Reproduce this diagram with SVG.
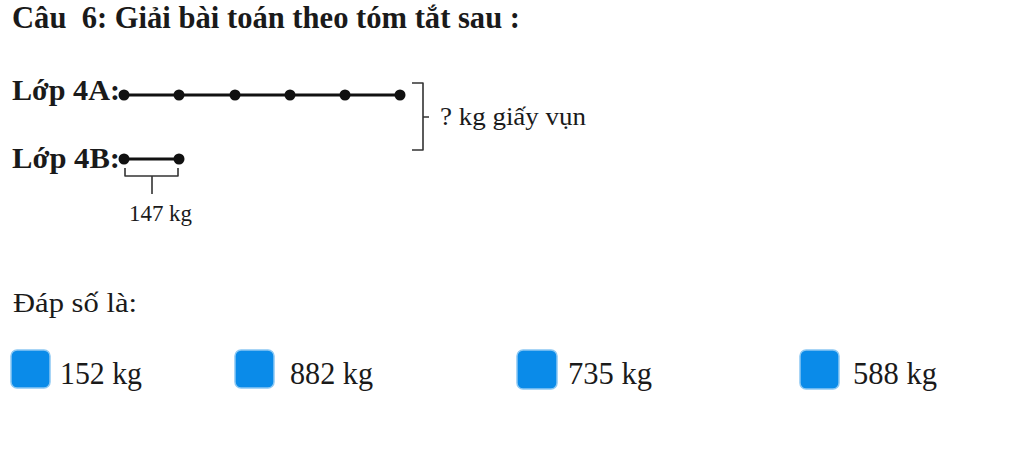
<svg xmlns="http://www.w3.org/2000/svg" width="1024" height="455" viewBox="0 0 1024 455">
  <style>
    .serif { font-family: "Liberation Serif", "Times New Roman", serif; fill: #1a1a1a; }
    .bold { font-weight: bold; }
    .bar { stroke: #111; stroke-width: 3; fill: none; }
    .dot { fill: #111; }
    .thin { stroke: #333; stroke-width: 1.6; fill: none; stroke-linejoin: round; }
    .box { fill: #0a8be9; stroke: #8cc8f3; stroke-width: 1.5; }
  </style>
  <rect width="1024" height="455" fill="#ffffff"/>

  <g id="title">
    <text class="serif bold" x="12" y="28" font-size="31" textLength="508" lengthAdjust="spacingAndGlyphs">Câu&#160; 6: Giải bài toán theo tóm tắt sau :</text>
  </g>

  <g id="lop4a">
    <text class="serif bold" x="12" y="100" font-size="29" textLength="108" lengthAdjust="spacingAndGlyphs">Lớp 4A:</text>
    <line class="bar" x1="124" y1="95" x2="400" y2="95"/>
    <circle class="dot" cx="124" cy="95" r="5.5"/>
    <circle class="dot" cx="179" cy="95" r="5.5"/>
    <circle class="dot" cx="235" cy="95" r="5.5"/>
    <circle class="dot" cx="290" cy="95" r="5.5"/>
    <circle class="dot" cx="345" cy="95" r="5.5"/>
    <circle class="dot" cx="400" cy="95" r="5.5"/>
  </g>

  <g id="lop4b">
    <text class="serif bold" x="12" y="168" font-size="29" textLength="108" lengthAdjust="spacingAndGlyphs">Lớp 4B:</text>
    <line class="bar" x1="124" y1="159" x2="179" y2="159"/>
    <circle class="dot" cx="124" cy="159" r="5.5"/>
    <circle class="dot" cx="179" cy="159" r="5.5"/>
  </g>

  <g id="brace-4b">
    <path class="thin" d="M125,168 V176 H178 V168 M152,176 V194"/>
    <text class="serif" x="129" y="221" font-size="23" textLength="63" lengthAdjust="spacingAndGlyphs">147 kg</text>
  </g>

  <g id="brace-total">
    <path class="thin" d="M412,83 H423 V150 H412 M423,117 H429"/>
    <text class="serif" x="440" y="125" font-size="25" textLength="146" lengthAdjust="spacingAndGlyphs">? kg giấy vụn</text>
  </g>

  <g id="answer-label">
    <text class="serif" x="13" y="312" font-size="28" textLength="124" lengthAdjust="spacingAndGlyphs">Đáp số là:</text>
  </g>

  <g id="option-a">
    <rect class="box" x="11" y="350" width="39" height="38" rx="6"/>
    <text class="serif" x="60" y="384" font-size="32" textLength="82" lengthAdjust="spacingAndGlyphs">152 kg</text>
  </g>
  <g id="option-b">
    <rect class="box" x="235" y="350" width="39" height="38" rx="6"/>
    <text class="serif" x="290" y="384" font-size="32" textLength="83" lengthAdjust="spacingAndGlyphs">882 kg</text>
  </g>
  <g id="option-c">
    <rect class="box" x="517" y="350" width="40" height="39" rx="6"/>
    <text class="serif" x="568" y="384" font-size="32" textLength="84" lengthAdjust="spacingAndGlyphs">735 kg</text>
  </g>
  <g id="option-d">
    <rect class="box" x="800" y="350" width="39" height="39" rx="6"/>
    <text class="serif" x="853" y="384" font-size="32" textLength="84" lengthAdjust="spacingAndGlyphs">588 kg</text>
  </g>
</svg>
